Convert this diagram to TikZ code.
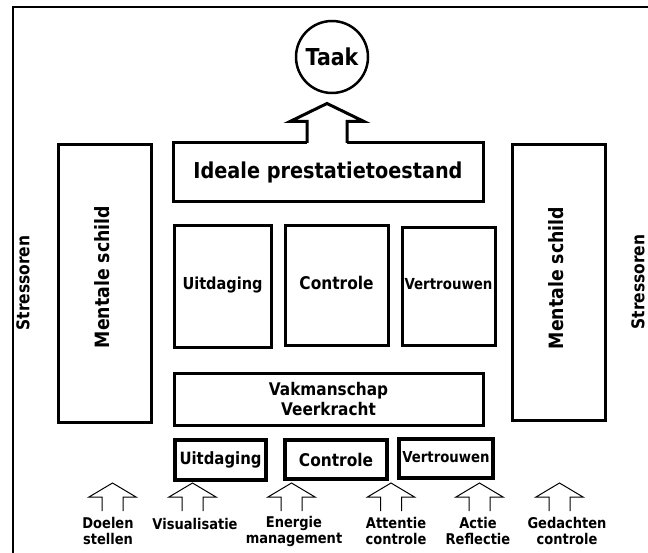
\documentclass[tikz,border=0pt]{standalone}
\usepackage{fontspec}
\setmainfont{DejaVu Sans}[FakeStretch=0.88]
\usetikzlibrary{calc}
\begin{document}
\begin{tikzpicture}[x=1pt,y=-1pt,
  box/.style={draw, line width=3pt, inner sep=0pt, align=center},
  fs/.style={font=\bfseries\fontsize{#1}{#1}\selectfont},
  lbl/.style={font=\bfseries\fontsize{14.8}{16}\selectfont, align=center, inner sep=0pt},
  uparrow/.pic={\draw[line width=1pt] (-10.5,28) -- (-10.5,14) -- (-23.5,14) -- (0,0) -- (23.5,14) -- (10.5,14) -- (10.5,28);}
]
\useasboundingbox (0,0) rectangle (648,553);
\fill[white] (0,0) rectangle (648,553);
% outer frame (top and left visible)
\draw[line width=2pt] (648,7) -- (12.5,7) -- (12.5,553);

% task circle
\node[draw, circle, line width=2.5pt, minimum size=72pt, inner sep=0pt, fs=23.3] (taak) at (332,57) {Taak};

% ideal state box
\node[box, minimum width=310pt, minimum height=59pt, fs=21.9] (ideale) at (328,172.5) {\raisebox{-2pt}{Ideale prestatietoestand}};

% big arrow to Taak
\fill[white] ($(ideale.north)+(-21,3)$) -- ($(ideale.north)+(-21,-20)$) -- ($(ideale.north)+(-38,-20)$) -- ($(ideale.north)+(-1,-38)$) -- ($(ideale.north)+(36,-20)$) -- ($(ideale.north)+(19,-20)$) -- ($(ideale.north)+(19,3)$) -- cycle;
\draw[line width=3pt, line join=miter] ($(ideale.north)+(-21,1.5)$) -- ($(ideale.north)+(-21,-20)$) -- ($(ideale.north)+(-38,-20)$) -- ($(ideale.north)+(-1,-38)$) -- ($(ideale.north)+(36,-20)$) -- ($(ideale.north)+(19,-20)$) -- ($(ideale.north)+(19,1.5)$);

% mental shields
\node[box, minimum width=93pt, minimum height=277pt] (schildL) at (104.5,283.5) {};
\node[fs=19.7, rotate=90, inner sep=0pt] (schildLt) at (102,277) {Mentale schild};
\node[box, minimum width=93pt, minimum height=275pt] (schildR) at (558.5,282.5) {};
\node[fs=19.7, rotate=90, inner sep=0pt] (schildRt) at (556,278) {Mentale schild};

% stressors
\node[fs=17.6, rotate=90, inner sep=0pt] (stressL) at (23,283) {Stressoren};
\node[fs=17.6, rotate=90, inner sep=0pt] (stressR) at (638,282) {Stressoren};

% middle boxes
\node[box, minimum width=97pt, minimum height=122pt, fs=16.5] (u1) at (222.5,287) {\raisebox{7pt}{Uitdaging}};
\node[box, minimum width=103pt, minimum height=120pt, fs=17.5] (c1) at (336.5,286) {\raisebox{6pt}{Controle}};
\node[box, minimum width=93pt, minimum height=118pt, fs=15.2] (v1) at (448.5,287) {\raisebox{6pt}{Vertrouwen}};

% craftsmanship box
\node[box, minimum width=309pt, minimum height=52pt, font=\bfseries\fontsize{17.4}{20}\selectfont] (vak) at (328.5,399) {Vakmanschap\\Veerkracht};

% bottom boxes
\node[box, line width=3.5pt, minimum width=91pt, minimum height=40pt, fs=16.9] (u2) at (220.5,460) {Uitdaging};
\node[box, line width=3.5pt, minimum width=102pt, minimum height=39pt, fs=17.5] (c2) at (336,459.5) {Controle};
\node[box, line width=3.5pt, minimum width=94pt, minimum height=39pt, fs=15.1] (v2) at (446,458.5) {\raisebox{3.5pt}{Vertrouwen}};

% small arrows
\pic at (112.5,483) {uparrow};
\pic at (192.5,483) {uparrow};
\pic at (291.5,483) {uparrow};
\pic at (391,483) {uparrow};
\pic at (479.5,483) {uparrow};
\pic at (559.5,483) {uparrow};

% bottom labels
\node[lbl] (l1) at (108,531) {Doelen\\stellen};
\node[lbl] (l2) at (195,524) {Visualisatie};
\node[lbl] (l3) at (294,531) {Energie\\management};
\node[lbl] (l4) at (396,531) {Attentie\\controle};
\node[lbl] (l5) at (478,531) {Actie\\Reflectie};
\node[lbl] (l6) at (567,531) {Gedachten\\controle};
\end{tikzpicture}
\end{document}
